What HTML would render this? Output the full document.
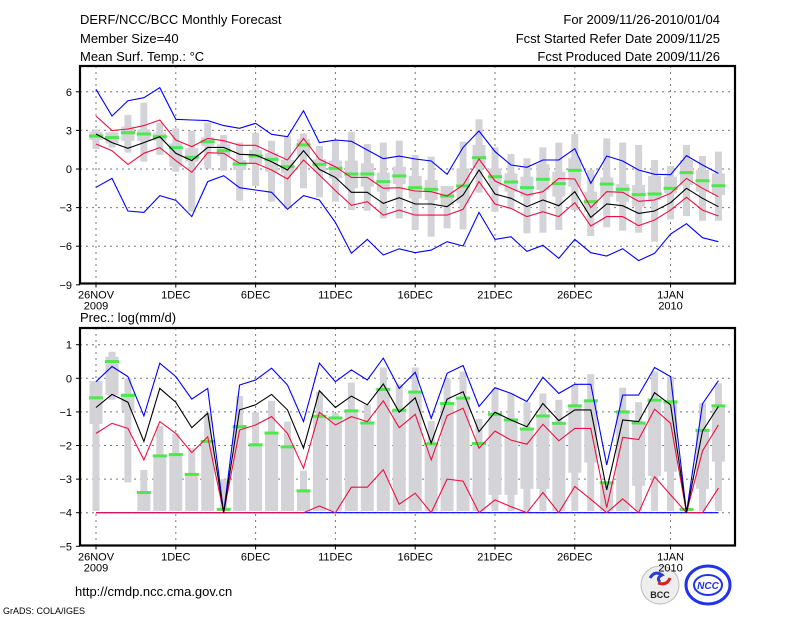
<!DOCTYPE html>
<html><head><meta charset="utf-8"><style>
html,body{margin:0;padding:0;background:#fff;}
svg{display:block;font-family:"Liberation Sans",sans-serif;}
</style></head><body>
<svg id="c" width="800" height="618" viewBox="0 0 800 618" xmlns="http://www.w3.org/2000/svg">
<rect width="800" height="618" fill="#fff"/>
<g font-size="13" fill="#000">
<text x="80" y="24">DERF/NCC/BCC Monthly Forecast</text>
<text x="80" y="43">Member Size=40</text>
<text x="80" y="61">Mean Surf. Temp.: °C</text>
<text x="720" y="24" text-anchor="end">For 2009/11/26-2010/01/04</text>
<text x="720" y="43" text-anchor="end">Fcst Started Refer Date 2009/11/25</text>
<text x="720" y="61" text-anchor="end">Fcst Produced Date 2009/11/26</text>
<text x="80" y="322">Prec.: log(mm/d)</text>
<text x="75" y="596">http://cmdp.ncc.cma.gov.cn</text>
<text x="3" y="614" font-size="9">GrADS: COLA/IGES</text>
</g>
<g>
<circle cx="660" cy="585" r="19" fill="#eee" stroke="#bbb"/>
<path d="M650 578 q5 -8 12 -3 q-6 3 -2 7" stroke="#2a3fd0" stroke-width="3" fill="none"/>
<path d="M670 578 q-3 8 -12 5" stroke="#e02020" stroke-width="3" fill="none"/>
<text x="660" y="598" font-size="9" font-weight="bold" text-anchor="middle" fill="#222">BCC</text>
</g>
<g>
<ellipse cx="708" cy="585" rx="22" ry="19" fill="#fff" stroke="#2233ee" stroke-width="3"/>
<ellipse cx="708" cy="585" rx="14" ry="10" fill="#fff" stroke="#2233ee" stroke-width="2"/>
<text x="708" y="589" font-size="10" font-weight="bold" font-style="italic" text-anchor="middle" fill="#2233ee">NCC</text>
</g>
</svg>
<script>
// ---- data: top panel (temperature, °C) ----
const days = ["26NOV","1DEC","6DEC","11DEC","16DEC","21DEC","26DEC","1JAN"];
const dayIndex = [0,5,10,15,20,25,30,36];
const tTicks = [6,3,0,-3,-6,-9];
const tBlueU = [6.19,4.12,5.31,5.54,6.32,3.86,3.81,3.76,3.37,3.16,3.55,2.70,2.51,4.53,2.05,2.25,2.15,1.48,0.80,1.0,0.78,0.62,-0.41,1.68,2.95,1.35,0.31,0.13,0.70,0.70,1.58,-1.11,1.01,0.62,-0.08,-0.41,-0.44,1.04,0.31,-0.34];
const tBlueL = [-1.42,-0.73,-3.26,-3.37,-2.07,-2.43,-3.70,-0.98,-0.52,-1.45,-1.63,-1.81,-3.13,-2.07,-2.41,-4.15,-6.55,-5.47,-6.68,-6.2,-6.5,-6.3,-5.65,-5.98,-3.37,-5.47,-5.26,-6.4,-5.93,-6.94,-5.47,-6.5,-6.76,-6.19,-7.12,-6.55,-5.05,-4.25,-5.34,-5.65];
const tRedU = [4.12,2.98,3.11,3.37,3.81,2.25,1.74,2.38,2.20,1.84,1.84,1.27,0.70,2.38,0.75,0.18,-0.65,-0.65,-1.50,-1.45,-1.71,-1.76,-2.10,-1.24,0.78,-0.93,-1.50,-2.02,-1.76,-0.73,-0.78,-3.0,-1.76,-1.81,-2.51,-2.41,-1.89,-0.73,-1.50,-2.15];
const tRedL = [1.94,1.42,0.36,1.22,1.66,0.65,-0.26,1.27,1.22,0.44,0.44,-0.08,-0.78,0.70,-0.47,-1.68,-2.82,-2.54,-3.58,-3.19,-3.58,-3.58,-3.58,-3.13,-0.98,-2.72,-3.06,-3.70,-3.32,-3.70,-2.62,-4.43,-3.70,-3.70,-4.40,-3.96,-3.19,-2.20,-3.19,-3.65];
const tMean = [2.72,2.05,1.61,2.05,2.51,1.22,0.65,1.68,1.68,1.14,1.09,0.57,-0.08,1.42,-0.03,-0.65,-1.81,-1.81,-2.67,-2.23,-2.72,-2.72,-2.93,-2.02,-0.08,-1.94,-2.28,-2.93,-2.41,-2.85,-1.76,-3.76,-2.72,-2.85,-3.45,-3.26,-2.62,-1.50,-2.28,-2.93];
const tMax = [3.08,2.85,4.20,5.16,3.60,3.16,2.98,3.60,2.64,2.05,2.82,2.20,2.56,2.77,1.79,2.25,2.90,1.94,2.05,2.20,1.09,0.96,-1.32,2.12,3.86,1.68,1.17,0.83,1.68,2.05,2.72,-0.08,2.38,2.05,1.87,0.70,0.23,1.87,1.01,1.35];
const tMin = [1.55,1.66,1.27,0.57,1.09,-0.21,-3.32,0.03,-0.13,-2.46,-1.32,-2.54,-3.01,-1.50,-2.20,-2.54,-3.19,-3.24,-3.83,-3.83,-4.74,-5.26,-4.61,-4.69,-1.84,-3.32,-3.13,-5.0,-4.95,-4.74,-3.19,-5.21,-4.53,-4.79,-4.95,-5.65,-3.91,-3.65,-4.02,-4.02];
const tQ3 = [2.90,2.85,3.29,3.08,2.82,1.99,1.61,2.46,1.92,0.70,1.48,1.22,0.70,2.31,0.75,0.65,0.65,0.44,-0.28,0.18,-0.54,-0.85,-1.32,0.05,1.87,0.05,-0.34,-0.60,0.39,-0.21,0.83,-1.76,-0.65,-1.17,-1.24,-0.54,-0.60,0.70,-0.08,-0.34];
const tQ1 = [2.25,1.99,2.18,2.18,2.20,0.18,0.57,1.79,1.01,-0.08,0.39,-0.21,-0.34,1.01,-0.21,-0.73,-1.50,-1.37,-1.76,-1.17,-2.28,-2.41,-2.80,-2.67,0.05,-1.32,-1.76,-2.15,-1.63,-2.15,-1.37,-3.32,-2.15,-2.54,-2.93,-2.41,-1.89,-1.24,-1.76,-2.02];
const tMed = [2.56,2.44,2.82,2.72,2.51,1.66,0.91,2.12,1.42,0.39,1.01,0.75,0.18,1.87,0.36,0.05,-0.39,-0.39,-0.98,-0.54,-1.45,-1.58,-2.10,-1.32,0.88,-0.60,-1.01,-1.45,-0.80,-1.14,-0.10,-2.54,-1.17,-1.58,-1.99,-1.94,-1.50,-0.28,-0.91,-1.30];
// ---- data: bottom panel (log precipitation) ----
const pTicks = [1,0,-1,-2,-3,-4,-5];
const pBlueU = [-0.10,0.35,0.05,-1.12,0.45,0.05,-0.62,-0.30,-4.0,-0.20,-0.05,0.30,-0.20,-1.29,0.45,-0.10,0.25,-0.05,0.60,-0.30,0.18,-1.19,0.15,0.38,-0.84,-0.28,-0.45,-0.69,0.03,-0.45,-0.18,-0.18,-2.58,-0.50,-0.50,0.32,0.05,-4.0,-0.76,-0.07];
const pMean = [-0.87,-0.48,-0.71,-1.88,-0.30,-0.71,-1.47,-1.04,-4.0,-0.94,-0.79,-0.48,-0.94,-2.08,-0.37,-0.87,-0.53,-0.79,-0.17,-1.01,-0.58,-1.93,-0.62,-0.40,-1.59,-1.01,-1.24,-1.44,-0.75,-1.26,-0.94,-0.94,-3.32,-1.24,-1.29,-0.43,-0.79,-4.0,-1.57,-0.84];
const pRedU = [-1.64,-1.34,-1.49,-2.43,-1.29,-1.64,-2.21,-1.74,-4.0,-1.54,-1.39,-1.14,-1.64,-2.68,-1.01,-1.39,-1.14,-1.29,-0.67,-1.47,-1.07,-2.43,-1.11,-0.89,-2.08,-1.57,-1.84,-1.96,-1.37,-1.86,-1.49,-1.49,-3.85,-1.76,-1.82,-0.92,-1.34,-4.0,-2.16,-1.39];
const pRedL = [-4,-4,-4,-4,-4,-4,-4,-4,-4,-4,-4,-4,-4,-4,-3.8,-4,-3.24,-3.24,-2.72,-3.75,-3.42,-4,-3.0,-3.06,-4,-3.62,-3.82,-4,-3.4,-4,-3.22,-3.6,-4,-3.59,-4,-2.93,-3.47,-4,-4,-3.27];
const pBlueL = [-4,-4,-4,-4,-4,-4,-4,-4,-4,-4,-4,-4,-4,-4,-4,-4,-4,-4,-4,-4,-4,-4,-4,-4,-4,-4,-4,-4,-4,-4,-4,-4,-4,-4,-4,-4,-4,-4,-4,-4];
const pMax = [-0.08,0.79,0,-2.73,-1.42,-1.64,-2.08,-1.04,-3.0,-0.53,-1.01,-0.67,-1.29,-2.75,-0.40,-1.04,-0.13,-0.79,0.32,-0.18,0.32,-1.27,0,0.20,-1.21,-0.32,-0.45,-0.71,-0.45,-0.64,-0.18,0.12,-3.10,-0.28,-0.71,0.20,0.05,-3.9,-0.74,-0.15];
const pMin = [-3.95,-0.64,-3.10,-3.95,-3.95,-3.95,-3.95,-3.95,-3.95,-3.95,-3.95,-3.95,-3.95,-3.95,-3.95,-3.95,-3.95,-3.95,-3.95,-3.95,-3.95,-3.95,-3.95,-3.95,-3.95,-3.95,-3.95,-3.95,-3.95,-3.95,-3.95,-3.95,-3.95,-3.95,-3.95,-3.95,-3.95,-3.95,-3.95,-3.95];
const pQ3 = [-0.08,0.64,-0.45,-3.42,-2.28,-2.23,-2.83,-1.84,-3.9,-1.39,-1.98,-1.59,-2.03,-3.34,-1.09,-1.17,-0.97,-1.34,-0.30,-0.94,-0.40,-1.93,-0.74,-0.58,-1.93,-1.07,-1.24,-1.51,-1.11,-1.34,-0.82,-0.67,-3.10,-0.99,-1.32,-0.64,-0.69,-3.9,-1.54,-0.81];
const pQ1 = [-1.36,-0.50,-0.97,-3.95,-3.95,-3.95,-3.95,-3.95,-3.95,-3.95,-3.95,-3.95,-3.95,-3.95,-3.95,-3.95,-3.95,-3.95,-3.95,-3.95,-3.95,-3.95,-3.95,-3.95,-3.95,-3.47,-3.47,-3.29,-3.29,-3.95,-2.81,-2.51,-3.95,-3.95,-3.2,-2.91,-2.78,-3.95,-3.29,-2.48];
const pMed = [-0.58,0.50,-0.51,-3.40,-2.31,-2.27,-2.86,-1.88,-3.9,-1.44,-1.98,-1.63,-2.04,-3.35,-1.13,-1.18,-0.97,-1.33,-0.33,-0.95,-0.41,-1.95,-0.75,-0.59,-1.94,-1.07,-1.24,-1.51,-1.12,-1.34,-0.82,-0.67,-3.11,-1.0,-1.33,-0.65,-0.70,-3.9,-1.55,-0.82];

const NS = "http://www.w3.org/2000/svg";
const svg = document.getElementById("c");
function mk(tag, attrs, parent){
  const e = document.createElementNS(NS, tag);
  for (const k in attrs) e.setAttribute(k, attrs[k]);
  (parent || svg).appendChild(e);
  return e;
}
const X0 = 96, DX = 15.96, L = 80, R = 735;
const xs = i => X0 + DX * i;

function panel(cfg){
  const g = mk("g", {});
  
  
  const y = v => cfg.y0 - (v - cfg.v0) * cfg.k;
  // grid
  cfg.ticks.forEach(t => {
    const yy = y(t);
    if (yy > cfg.top + 2 && yy < cfg.bot - 2) {
      const gl = mk("line", {x1:L, x2:R, y1:yy, y2:yy, stroke:"#777", "stroke-width":1, "stroke-dasharray":"2,4"}, g);
      
      
    }
    const tk = mk("line", {x1:L-4, x2:L, y1:yy, y2:yy, stroke:"#000"}, g);
    
    
    const tl = mk("text", {x:L-8, y:yy+4, "text-anchor":"end", "font-size":11}, g);
    tl.textContent = String(t).replace("-", "−");
    
    
  });
  dayIndex.forEach((d, j) => {
    const xx = xs(d);
    const vl = mk("line", {x1:xx, x2:xx, y1:cfg.top, y2:cfg.bot, stroke:"#777", "stroke-width":1, "stroke-dasharray":"2,4"}, g);
    
    
    const tk = mk("line", {x1:xx, x2:xx, y1:cfg.bot, y2:cfg.bot+4, stroke:"#000"}, g);
    
    
    const tl = mk("text", {x:xx, y:cfg.bot+15, "text-anchor":"middle", "font-size":11}, g);
    tl.textContent = days[j];
    
    
  });
  const y1 = mk("text", {x:xs(0), y:cfg.bot+26, "text-anchor":"middle", "font-size":11}, g);
  y1.textContent = "2009";
  
  
  const y2 = mk("text", {x:xs(36), y:cfg.bot+26, "text-anchor":"middle", "font-size":11}, g);
  y2.textContent = "2010";
  
  
  // boxes
  for (let i = 0; i < cfg.max.length; i++) {
    const xx = xs(i);
    const ob = mk("rect", {x:xx-3.5, y:y(cfg.max[i]), width:7, height:Math.max(1, y(cfg.min[i]) - y(cfg.max[i])), fill:"#d3d3d8"}, g);
    
    
    const ib = mk("rect", {x:xx-6.5, y:y(cfg.q3[i]), width:13, height:Math.max(1, y(cfg.q1[i]) - y(cfg.q3[i])), fill:"#d3d3d8"}, g);
    
    
    const md = mk("rect", {x:xx-7, y:y(cfg.med[i])-1.5, width:14, height:3, fill:"#4de84d"}, g);
    
    
  }
  cfg.lines.forEach(ln => {
    const pts = ln.d.map((v, i) => xs(i).toFixed(1) + "," + y(v).toFixed(1)).join(" ");
    const p = mk("polyline", {points:pts, fill:"none", stroke:ln.c, "stroke-width":1.1}, g);
    
    
  });
  const fr = mk("rect", {x:L, y:cfg.top, width:R-L, height:cfg.bot-cfg.top, fill:"none", stroke:"#000", "stroke-width":2.2}, g);
  
  
}

panel({name:"temperature-panel", top:66, bot:283.5, y0:169, v0:0, k:12.87, ticks:tTicks,
  max:tMax, min:tMin, q3:tQ3, q1:tQ1, med:tMed,
  lines:[{d:tBlueU,c:"#0000ff",n:"upper-bound-line"},{d:tBlueL,c:"#0000ff",n:"lower-bound-line"},
         {d:tRedU,c:"#ee1040",n:"upper-std-line"},{d:tRedL,c:"#ee1040",n:"lower-std-line"},
         {d:tMean,c:"#000",n:"ensemble-mean-line"}]});
panel({name:"precip-panel", top:328, bot:545.5, y0:378.3, v0:0, k:33.6, ticks:pTicks,
  max:pMax, min:pMin, q3:pQ3, q1:pQ1, med:pMed,
  lines:[{d:pBlueL,c:"#0000ff",n:"lower-bound-line"},{d:pBlueU,c:"#0000ff",n:"upper-bound-line"},
         {d:pRedL,c:"#ee1040",n:"lower-std-line"},{d:pRedU,c:"#ee1040",n:"upper-std-line"},
         {d:pMean,c:"#000",n:"ensemble-mean-line"}]});
</script>
</body></html>
